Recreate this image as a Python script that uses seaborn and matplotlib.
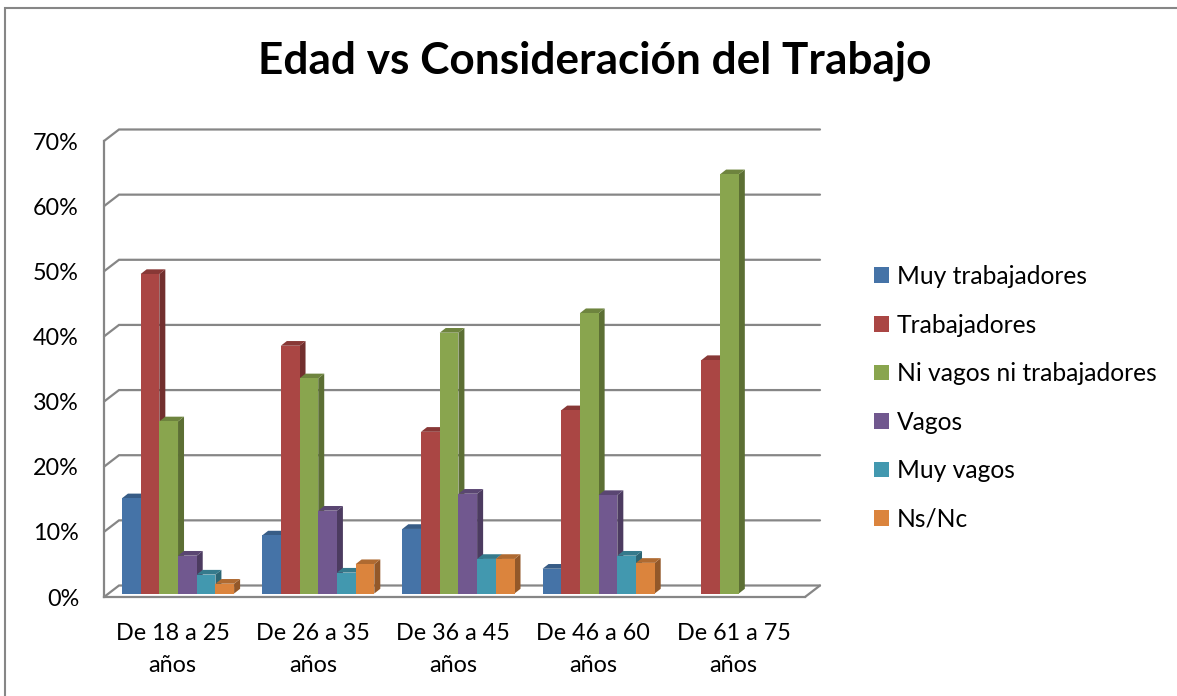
import numpy as np
import pandas as pd
import matplotlib
matplotlib.use("Agg")
import matplotlib.pyplot as plt
from matplotlib.colors import to_rgb
from matplotlib.patches import Polygon, Rectangle
import seaborn as sns

# values
edades = ["De 18 a 25\naños", "De 26 a 35\naños", "De 36 a 45\naños", "De 46 a 60\naños", "De 61 a 75\naños"]
muy_trabajadores = [14.6, 8.9, 9.9, 3.8, np.nan]
trabajadores = [49.0, 38.0, 24.8, 28.1, 35.8]
ni_ni = [26.4, 33.0, 40.0, 43.0, 64.3]
vagos = [5.8, 12.7, 15.3, 15.1, np.nan]
muy_vagos = [2.9, 3.2, 5.3, 5.8, np.nan]
ns_nc = [1.5, 4.5, 5.3, 4.7, np.nan]
ticks_pct = [0, 10, 20, 30, 40, 50, 60, 70]

series = {
    "Muy trabajadores": muy_trabajadores,
    "Trabajadores": trabajadores,
    "Ni vagos ni trabajadores": ni_ni,
    "Vagos": vagos,
    "Muy vagos": muy_vagos,
    "Ns/Nc": ns_nc,
}
colores = ["#4573A7", "#AA4644", "#89A54E", "#71588F", "#4298AF", "#DB843D"]

df = pd.DataFrame(series, index=edades).reset_index(names="Edad")
df = df.melt(id_vars="Edad", var_name="Opinion", value_name="Pct")

sns.set_theme(style="white")
plt.rcParams["font.family"] = ["Lato", "DejaVu Sans"]

W, H = 1177, 696
GRIS = "#868686"
fig = plt.figure(figsize=(W / 100, H / 100), dpi=100)


def px_axes(left, right, top, bottom):
    return fig.add_axes([left / W, 1 - bottom / H, (right - left) / W, (bottom - top) / H])


# outer frame, runs off the right and bottom of the picture
fig.add_artist(Rectangle((5 / W, -0.05), 1.1, 1.05 - 8 / H, transform=fig.transFigure,
                         fill=False, edgecolor=GRIS, linewidth=1.5))

# walls: grid on the back, axis on the front
wall = px_axes(104, 805, 141, 597)
wall.set_xlim(0, 5)
wall.set_ylim(0, 70)
wall.patch.set_visible(False)
sns.despine(ax=wall, top=True, right=True)
for side in ["left", "bottom"]:
    wall.spines[side].set_color(GRIS)
    wall.spines[side].set_linewidth(1.6)

back_x = 15 / 140.2
back_y = 11.5 / 6.514
for v in ticks_pct:
    wall.plot([0, back_x, 5 + back_x], [v, v + back_y, v + back_y], color=GRIS, lw=1.6, clip_on=False,
              solid_joinstyle="miter", zorder=1)
wall.plot([5, 5 + back_x], [0, back_y], color=GRIS, lw=1.6, clip_on=False, zorder=1)

wall.set_yticks(ticks_pct)
wall.set_yticklabels([f"{v}%" for v in ticks_pct], fontsize=16.8, color="black")
wall.set_xticks(np.arange(5) + 0.49)
wall.set_xticklabels(edades, fontsize=16.8, color="black", linespacing=1.6)
wall.tick_params(axis="y", length=0, pad=18)
wall.tick_params(axis="x", length=0, pad=19)

# bars
ax = px_axes(104, 805, 141, 593.5)
ax.patch.set_visible(False)
sns.barplot(data=df, x="Edad", y="Pct", hue="Opinion", hue_order=list(series), palette=colores,
            order=edades, width=0.8, gap=0, saturation=1, ax=ax, linewidth=0, legend=True)
ax.set_xlim(-0.528, 4.472)
ax.set_ylim(0, 452.5 / 6.52)
ax.axis("off")

dx = 6 / 140.2
dy = 4.7 / 6.52
for i, (cont, color) in enumerate(zip(ax.containers, colores)):
    base = np.array(to_rgb(color))
    for bar in cont:
        h = bar.get_height()
        if not np.isfinite(h) or h <= 0:
            continue
        x0 = bar.get_x()
        x1 = x0 + bar.get_width()
        bar.set_zorder(5 + i + 0.2)
        ax.add_patch(Polygon([(x1, 0), (x1 + dx, dy), (x1 + dx, h + dy), (x1, h)], closed=True,
                             facecolor=base * 0.67, linewidth=0, zorder=5 + i, clip_on=False))
        ax.add_patch(Polygon([(x0, h), (x0 + dx, h + dy), (x1 + dx, h + dy), (x1, h)], closed=True,
                             facecolor=base * 0.8, linewidth=0, zorder=5 + i + 0.1, clip_on=False))

handles, labels = ax.get_legend_handles_labels()
ax.get_legend().remove()
fig.legend(handles, labels, loc="upper left", bbox_to_anchor=(874 / W, 1 - 265 / H), borderaxespad=0, borderpad=0,
           frameon=False, fontsize=17.7, handlelength=0.61, handleheight=0.61, handletextpad=0.33,
           labelspacing=1.04, labelcolor="black")

fig.text(595 / W, 1 - 61 / H, "Edad vs Consideración del Trabajo", ha="center", va="center",
         fontsize=31.8, fontweight="bold", color="black")

fig.savefig("out.png", dpi=100, facecolor="white")
